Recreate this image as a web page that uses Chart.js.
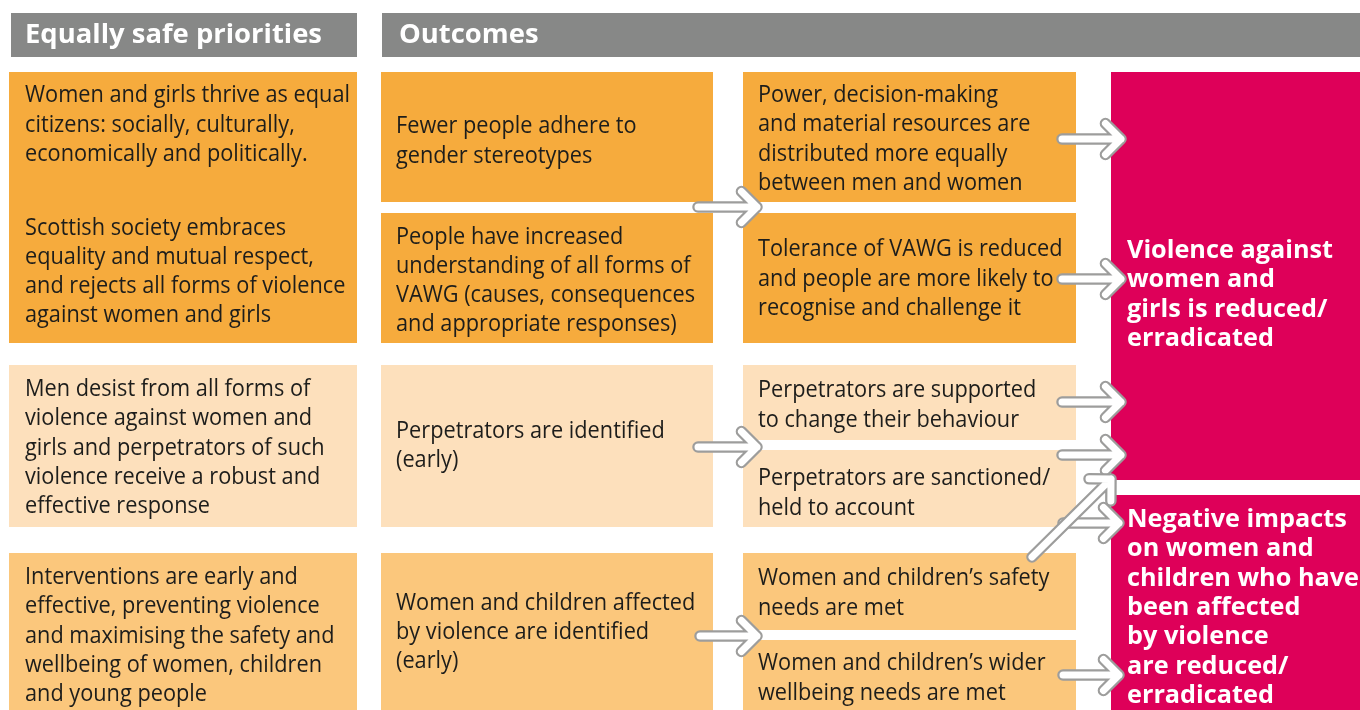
<!DOCTYPE html>
<html><head><meta charset="utf-8">
<script src="https://cdn.jsdelivr.net/npm/chart.js@4.4.1/dist/chart.umd.min.js"></script>
<style>html,body{margin:0;padding:0;background:#fff;overflow:hidden}#wrap{width:1360px;height:710px;position:relative}</style>
</head><body><div id="wrap"><canvas id="c"></canvas></div>
<script>
// ---------- content ----------
const headerLabels = ["Equally safe priorities", "Outcomes"];
const priorities = [
  ["Women and girls thrive as equal", "citizens: socially, culturally,", "economically and politically."],
  ["Scottish society embraces", "equality and mutual respect,", "and rejects all forms of violence", "against women and girls"],
  ["Men desist from all forms of", "violence against women and", "girls and perpetrators of such", "violence receive a robust and", "effective response"],
  ["Interventions are early and", "effective, preventing violence", "and maximising the safety and", "wellbeing of women, children", "and young people"]
];
const firstOutcomes = [
  ["Fewer people adhere to", "gender stereotypes"],
  ["People have increased", "understanding of all forms of", "VAWG (causes, consequences", "and appropriate responses)"],
  ["Perpetrators are identified", "(early)"],
  ["Women and children affected", "by violence are identified", "(early)"]
];
const secondOutcomes = [
  ["Power, decision-making", "and material resources are", "distributed more equally", "between men and women"],
  ["Tolerance of VAWG is reduced", "and people are more likely to", "recognise and challenge it"],
  ["Perpetrators are supported", "to change their behaviour"],
  ["Perpetrators are sanctioned/", "held to account"],
  ["Women and children\u2019s safety", "needs are met"],
  ["Women and children\u2019s wider", "wellbeing needs are met"]
];
const finalOutcomes = [
  ["Violence against", "women and", "girls is reduced/", "erradicated"],
  ["Negative impacts", "on women and", "children who have", "been affected", "by violence", "are reduced/", "erradicated"]
];

// ---------- layout (diagram units on hidden linear scales) ----------
const colX = [[9, 357], [381, 713], [743, 1076], [1111, 1360]];
const textX = [25, 396, 758, 1127];
const headerBoxes = [[11, 357, 13, 57, 25], [382, 1360, 13, 57, 399]];
// [col, y0, y1, fillKey]
const boxes = [
  [0, 72, 343, 'o'], [0, 365, 527, 'p'], [0, 553, 710, 'm'],
  [1, 72, 202, 'o'], [1, 213, 343, 'o'], [1, 365, 527, 'p'], [1, 553, 710, 'm'],
  [2, 72, 202, 'o'], [2, 213, 343, 'o'], [2, 365, 440, 'p'], [2, 450, 527, 'p'], [2, 553, 630, 'm'], [2, 640, 710, 'm'],
  [3, 72, 480, 'r'], [3, 495, 710, 'r']
];
const priorityCentres = [123, 270, 446, 634];
const firstCentres = [139.5, 279, 444, 630.5];
const secondCentres = [137.5, 277, 403.5, 491.5, 591.5, 676.5];
const finalCentres = [293.5, 606.5];
// arrows [x0, y0, x1, y1]
const arrows = [
  [698, 207, 757, 207], [698, 447, 757, 447], [700, 636, 757, 636],
  [1062, 139, 1121, 139], [1062, 279, 1121, 279], [1062, 402, 1121, 402], [1062, 455, 1121, 455],
  [1063, 523, 1119, 523], [1063, 675, 1119, 675],
  [1032, 557, 1111, 479]
];
const fills = { o: '#f6ab3d', p: '#fde0bc', m: '#fbc77c', r: '#de0059', g: '#878887' };

const diagramPlugin = {
  id: 'diagram',
  afterDraw(chart) {
    const ctx = chart.ctx, xs = chart.scales.x, ys = chart.scales.y;
    const X = v => xs.getPixelForValue(v), Y = v => ys.getPixelForValue(v);
    const REG = "24px 'Open Sans', 'Noto Sans', sans-serif";
    const BOLD = "bold 24.5px 'Open Sans', 'Noto Sans', sans-serif";
    const HEAD = "bold 27px 'Open Sans', 'Noto Sans', sans-serif";
    ctx.save();
    ctx.font = REG; const sxReg = Math.min(1.05, 325 / ctx.measureText(priorities[0][0]).width);
    ctx.font = BOLD; const sxBold = Math.min(1.05, 206 / ctx.measureText(finalOutcomes[0][0]).width);
    ctx.font = HEAD; const sxHead = Math.min(1.05, 297 / ctx.measureText(headerLabels[0]).width);

    function rect(x0, x1, y0, y1, c) {
      ctx.fillStyle = c;
      ctx.fillRect(X(x0), Y(y0), X(x1) - X(x0), Y(y1) - Y(y0));
    }
    function line(str, x, base, font, sx, color) {
      ctx.save();
      ctx.font = font; ctx.fillStyle = color; ctx.textBaseline = 'alphabetic'; ctx.textAlign = 'left';
      ctx.translate(X(x), Y(base)); ctx.scale(sx, 1); ctx.fillText(str, 0, 0);
      ctx.restore();
    }
    function block(lines, x, centre, font, sx, color, lh, capHalf) {
      const n = lines.length;
      lines.forEach((s, i) => line(s, x, centre + (i - (n - 1) / 2) * lh + capHalf, font, sx, color));
    }

    // headers
    headerBoxes.forEach((h, i) => {
      rect(h[0], h[1], h[2], h[3], fills.g);
      line(headerLabels[i], h[4], 43, HEAD, sxHead, '#ffffff');
    });
    // boxes
    boxes.forEach(b => rect(colX[b[0]][0], colX[b[0]][1], b[1], b[2], fills[b[3]]));
    // texts
    const tc = '#1d1d1b';
    priorities.forEach((t, i) => block(t, textX[0], priorityCentres[i], REG, sxReg, tc, 29.3, 8.5));
    firstOutcomes.forEach((t, i) => block(t, textX[1], firstCentres[i], REG, sxReg, tc, 29.3, 8.5));
    secondOutcomes.forEach((t, i) => block(t, textX[2], secondCentres[i], REG, sxReg, tc, 29.3, 8.5));
    finalOutcomes.forEach((t, i) => block(t, textX[3], finalCentres[i], BOLD, sxBold, '#ffffff', 29.4, 8.5));

    // arrows
    arrows.forEach(a => {
      const x0 = X(a[0]), y0 = Y(a[1]), x1 = X(a[2]), y1 = Y(a[3]);
      const th = Math.atan2(y1 - y0, x1 - x0), L = 22;
      const ax = x1 - L * Math.cos(th - Math.PI / 4), ay = y1 - L * Math.sin(th - Math.PI / 4);
      const bx = x1 - L * Math.cos(th + Math.PI / 4), by = y1 - L * Math.sin(th + Math.PI / 4);
      const path = () => {
        ctx.beginPath(); ctx.moveTo(x0, y0); ctx.lineTo(x1, y1);
        ctx.moveTo(ax, ay); ctx.lineTo(x1, y1); ctx.lineTo(bx, by);
      };
      ctx.lineCap = 'round'; ctx.lineJoin = 'round';
      path(); ctx.strokeStyle = '#9d9d9c'; ctx.lineWidth = 11.5; ctx.stroke();
      path(); ctx.strokeStyle = '#ffffff'; ctx.lineWidth = 7; ctx.stroke();
    });
    ctx.restore();
  }
};

new Chart(document.getElementById('c'), {
  type: 'scatter',
  data: { datasets: [{ data: [], pointRadius: 0 }] },
  options: {
    responsive: true, maintainAspectRatio: false, animation: false,
    layout: { padding: 0 },
    plugins: { legend: { display: false }, tooltip: { enabled: false } },
    scales: {
      x: { type: 'linear', min: 0, max: 1360, display: false },
      y: { type: 'linear', min: 0, max: 710, reverse: true, display: false }
    }
  },
  plugins: [diagramPlugin]
});
</script>
</body></html>
